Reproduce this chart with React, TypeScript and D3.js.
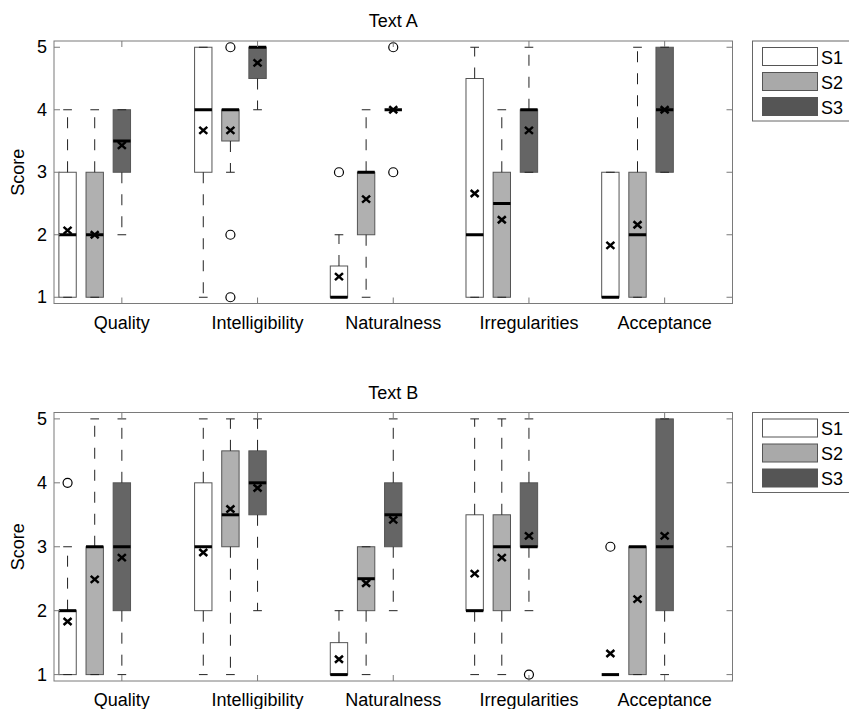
import React from 'react';
import * as d3 from 'd3';

const categories = ['Quality', 'Intelligibility', 'Naturalness', 'Irregularities', 'Acceptance'];
const seriesNames = ['S1', 'S2', 'S3'];
const boxFills = ['#ffffff', '#b0b0b0', '#656565'];
const legendFills = ['#ffffff', '#a9a9a9', '#555555'];
const yTicks = [1, 2, 3, 4, 5];

// one row per category: [lower whisker, q1, median, q3, upper whisker, mean]
const textA_S1 = [
  [1, 1, 2, 3, 4, 2.07],
  [1, 3, 4, 5, 5, 3.67],
  [1, 1, 1, 1.5, 2, 1.33],
  [1, 1, 2, 4.5, 5, 2.66],
  [1, 1, 1, 3, 3, 1.83],
];
const textA_S2 = [
  [1, 1, 2, 3, 4, 2.0],
  [3, 3.5, 4, 4, 4, 3.67],
  [1, 2, 3, 3, 4, 2.57],
  [1, 1, 2.5, 3, 4, 2.24],
  [1, 1, 2, 3, 5, 2.16],
];
const textA_S3 = [
  [2, 3, 3.5, 4, 4, 3.43],
  [4, 4.5, 5, 5, 5, 4.75],
  [4, 4, 4, 4, 4, 4.0],
  [3, 3, 4, 4, 5, 3.67],
  [3, 3, 4, 5, 5, 4.0],
];
const textA_S1_out = [[], [], [3], [], []];
const textA_S2_out = [[], [5, 2, 1], [], [], []];
const textA_S3_out = [[], [], [5, 3], [], []];

const textB_S1 = [
  [1, 1, 2, 2, 3, 1.83],
  [1, 2, 3, 4, 5, 2.91],
  [1, 1, 1, 1.5, 2, 1.24],
  [1, 2, 2, 3.5, 5, 2.58],
  [1, 1, 1, 1, 1, 1.33],
];
const textB_S2 = [
  [1, 1, 3, 3, 5, 2.49],
  [1, 3, 3.5, 4.5, 5, 3.59],
  [1, 2, 2.5, 3, 3, 2.43],
  [1, 2, 3, 3.5, 5, 2.83],
  [1, 1, 3, 3, 3, 2.18],
];
const textB_S3 = [
  [1, 2, 3, 4, 5, 2.83],
  [2, 3.5, 4, 4.5, 5, 3.92],
  [2, 3, 3.5, 4, 5, 3.42],
  [2, 3, 3, 4, 5, 3.17],
  [1, 2, 3, 5, 5, 3.17],
];
const textB_S1_out = [[4], [], [], [], [3]];
const textB_S2_out = [[], [], [], [], []];
const textB_S3_out = [[], [], [], [1], []];

const W = 849;
const H = 709;
const FONT = '"Liberation Sans", Arial, sans-serif';
const FS = 18;
const AX_LEFT = 54;
const AX_RIGHT = 732.5;
const offsets = [-0.4, -0.2, 0];
const boxW = 0.128;

function Panel({ title, top, bottom, stats, outliers }) {
  const x = d3.scaleLinear().domain([0.5, 5.5]).range([AX_LEFT, AX_RIGHT]);
  const y = d3.scaleLinear().domain([0.9, 5.1]).range([bottom, top]);
  const halfPx = (x(boxW) - x(0)) / 2;
  const tickLen = 6;
  const axisColor = '#7a7a7a';

  return (
    <g>
      <text x={(AX_LEFT + AX_RIGHT) / 2} y={top - 14} textAnchor="middle" fontSize={FS} fontFamily={FONT}>
        {title}
      </text>
      <text
        transform={`translate(${18},${(top + bottom) / 2}) rotate(-90)`}
        textAnchor="middle"
        dominantBaseline="central"
        fontSize={FS}
        fontFamily={FONT}
      >
        Score
      </text>

      {/* boxes */}
      {stats.map((series, si) =>
        series.map((s, ci) => {
          const [lo, q1, med, q3, hi, mean] = s;
          const cx = x(ci + 1 + offsets[si]);
          return (
            <g key={`${si}-${ci}`}>
              <rect
                x={cx - halfPx}
                y={y(q3)}
                width={halfPx * 2}
                height={y(q1) - y(q3)}
                fill={boxFills[si]}
                stroke="#555"
                strokeWidth={1}
              />
              <line x1={cx} x2={cx} y1={y(q3)} y2={y(hi)} stroke="#222" strokeDasharray="11,11" />
              <line x1={cx} x2={cx} y1={y(q1)} y2={y(lo)} stroke="#222" strokeDasharray="11,11" />
              <line x1={cx - halfPx / 2} x2={cx + halfPx / 2} y1={y(hi)} y2={y(hi)} stroke="#222" />
              <line x1={cx - halfPx / 2} x2={cx + halfPx / 2} y1={y(lo)} y2={y(lo)} stroke="#222" />
              <line x1={cx - halfPx} x2={cx + halfPx} y1={y(med)} y2={y(med)} stroke="#000" strokeWidth={3} />
              <path
                d={`M${cx - 4},${y(mean) - 3.5}L${cx + 4},${y(mean) + 3.5}M${cx - 4},${y(mean) + 3.5}L${cx + 4},${y(mean) - 3.5}`}
                stroke="#000"
                strokeWidth={2.5}
                fill="none"
              />
              {outliers[si][ci].map((v, oi) => (
                <circle key={oi} cx={cx} cy={y(v)} r={4.5} fill="none" stroke="#000" strokeWidth={1.2} />
              ))}
            </g>
          );
        })
      )}

      {/* axes box and ticks */}
      <rect
        x={AX_LEFT}
        y={top}
        width={AX_RIGHT - AX_LEFT}
        height={bottom - top}
        fill="none"
        stroke={axisColor}
        strokeWidth={1}
      />
      {yTicks.map((t) => (
        <g key={t}>
          <line x1={AX_LEFT} x2={AX_LEFT + tickLen} y1={y(t)} y2={y(t)} stroke={axisColor} />
          <line x1={AX_RIGHT} x2={AX_RIGHT - tickLen} y1={y(t)} y2={y(t)} stroke={axisColor} />
          <text
            x={AX_LEFT - 7}
            y={y(t)}
            textAnchor="end"
            dominantBaseline="central"
            fontSize={FS}
            fontFamily={FONT}
          >
            {t}
          </text>
        </g>
      ))}
      {categories.map((c, i) => (
        <g key={c}>
          <line x1={x(i + 1)} x2={x(i + 1)} y1={top} y2={top + tickLen} stroke={axisColor} />
          <line x1={x(i + 1)} x2={x(i + 1)} y1={bottom} y2={bottom - tickLen} stroke={axisColor} />
          <text x={x(i + 1)} y={bottom + 25} textAnchor="middle" fontSize={FS} fontFamily={FONT}>
            {c}
          </text>
        </g>
      ))}

      {/* legend */}
      <rect x={752.5} y={top} width={120} height={80} fill="#fff" stroke="#666" />
      {seriesNames.map((name, i) => {
        const sy = top + 6.5 + i * 25;
        return (
          <g key={name}>
            <rect x={762.5} y={sy} width={55} height={18} fill={legendFills[i]} stroke="#555" />
            <text x={821} y={sy + 10} dominantBaseline="central" fontSize={FS} fontFamily={FONT}>
              {name}
            </text>
          </g>
        );
      })}
    </g>
  );
}

export default function App() {
  return (
    <svg
      width={W}
      height={H}
      style={{ position: 'absolute', left: 0, top: 0, background: '#fff' }}
    >
      <Panel
        title="Text A"
        top={41}
        bottom={303.5}
        stats={[textA_S1, textA_S2, textA_S3]}
        outliers={[textA_S1_out, textA_S2_out, textA_S3_out]}
      />
      <Panel
        title="Text B"
        top={412.5}
        bottom={681}
        stats={[textB_S1, textB_S2, textB_S3]}
        outliers={[textB_S1_out, textB_S2_out, textB_S3_out]}
      />
    </svg>
  );
}
